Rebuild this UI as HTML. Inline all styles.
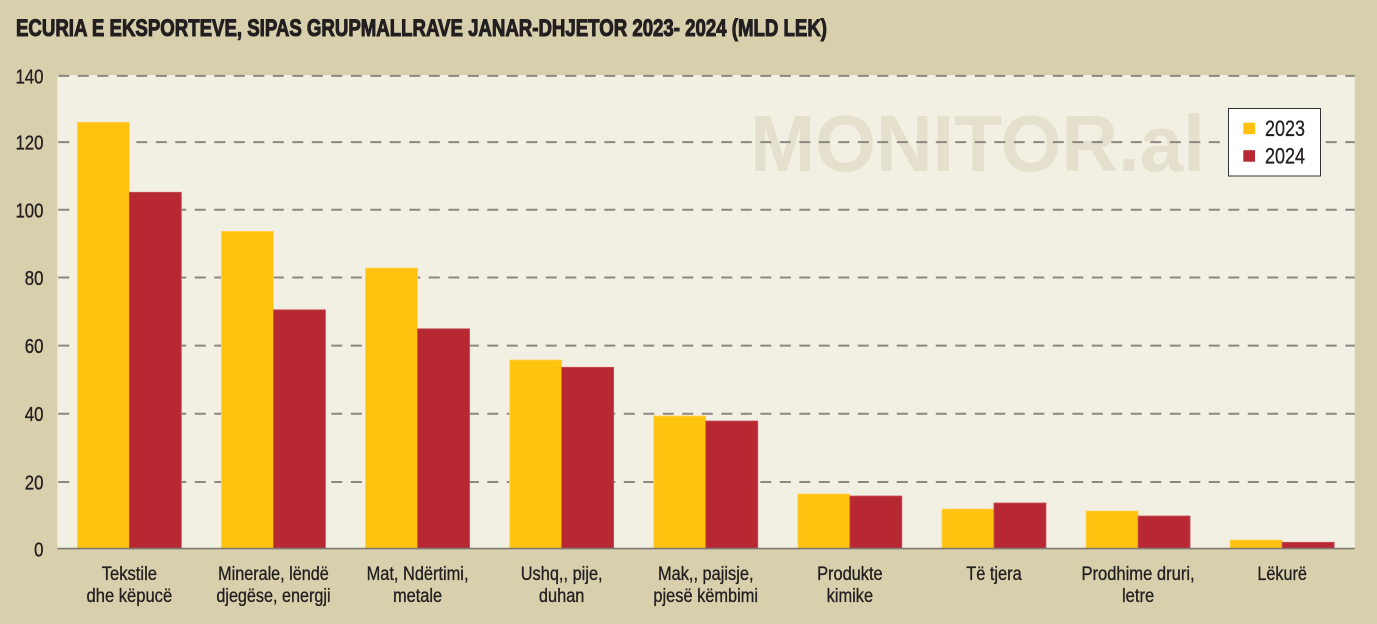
<!DOCTYPE html>
<html>
<head>
<meta charset="utf-8">
<style>
  html,body{margin:0;padding:0;background:#D8D0AC;}
  svg{display:block;}
  text{font-family:"Liberation Sans","DejaVu Sans",sans-serif;}
</style>
</head>
<body>
<svg width="1377" height="624" viewBox="0 0 1377 624" xmlns="http://www.w3.org/2000/svg">
  <rect x="0" y="0" width="1377" height="624" fill="#D8D0AC"/>
  <!-- title -->
  <text x="16" y="36" font-size="24.5" font-weight="bold" fill="#231F20" stroke="#231F20" stroke-width="1.1" textLength="811" lengthAdjust="spacingAndGlyphs">ECURIA E EKSPORTEVE, SIPAS GRUPMALLRAVE JANAR-DHJETOR 2023- 2024 (MLD LEK)</text>

  <!-- plot background -->
  <rect x="57.3" y="75" width="1297.4" height="473.5" fill="#F2EFE3"/>

  <!-- watermark -->
  <text x="750" y="171" font-size="80" font-weight="bold" fill="#E5E0CD" textLength="455" lengthAdjust="spacingAndGlyphs">MONITOR.al</text>

  <!-- gridlines -->
  <g stroke="#8C8880" stroke-width="2" stroke-dasharray="11 8.5">
    <line x1="58.3" y1="75.9" x2="1354.7" y2="75.9"/>
    <line x1="58.3" y1="142.1" x2="1354.7" y2="142.1"/>
    <line x1="58.3" y1="209.8" x2="1354.7" y2="209.8"/>
    <line x1="58.3" y1="277.5" x2="1354.7" y2="277.5"/>
    <line x1="58.3" y1="345.6" x2="1354.7" y2="345.6"/>
    <line x1="58.3" y1="413.7" x2="1354.7" y2="413.7"/>
    <line x1="58.3" y1="482" x2="1354.7" y2="482"/>
  </g>

  <!-- y labels -->
  <g font-size="20.5" fill="#231F20" stroke="#231F20" stroke-width="0.35">
    <text transform="translate(43.5,83.5) scale(0.82,1)" text-anchor="end">140</text>
    <text transform="translate(43.5,149.5) scale(0.82,1)" text-anchor="end">120</text>
    <text transform="translate(43.5,217.3) scale(0.82,1)" text-anchor="end">100</text>
    <text transform="translate(43.5,285) scale(0.82,1)" text-anchor="end">80</text>
    <text transform="translate(43.5,353.1) scale(0.82,1)" text-anchor="end">60</text>
    <text transform="translate(43.5,421.2) scale(0.82,1)" text-anchor="end">40</text>
    <text transform="translate(43.5,489.5) scale(0.82,1)" text-anchor="end">20</text>
    <text transform="translate(43.5,556.5) scale(0.82,1)" text-anchor="end">0</text>
  </g>

  <!-- bars 2023 -->
  <g fill="#FFC20F" stroke="#FFD35A" stroke-width="0.8">
    <rect x="77.35" y="122.3" width="52" height="426.2"/>
    <rect x="221.45" y="231.4" width="52" height="317.1"/>
    <rect x="365.55" y="268" width="52" height="280.5"/>
    <rect x="509.65" y="360" width="52" height="188.5"/>
    <rect x="653.75" y="416" width="52" height="132.5"/>
    <rect x="797.85" y="494" width="52" height="54.5"/>
    <rect x="941.95" y="509" width="52" height="39.5"/>
    <rect x="1086.05" y="511" width="52" height="37.5"/>
    <rect x="1230.15" y="540" width="52" height="8.5"/>
  </g>
  <!-- bars 2024 -->
  <g fill="#B72832" stroke="#C9525A" stroke-width="0.8">
    <rect x="129.35" y="192.3" width="52" height="356.2"/>
    <rect x="273.45" y="309.8" width="52" height="238.7"/>
    <rect x="417.55" y="328.8" width="52" height="219.7"/>
    <rect x="561.65" y="367.3" width="52" height="181.2"/>
    <rect x="705.75" y="421" width="52" height="127.5"/>
    <rect x="849.85" y="496" width="52" height="52.5"/>
    <rect x="993.95" y="503" width="52" height="45.5"/>
    <rect x="1138.05" y="516" width="52" height="32.5"/>
    <rect x="1282.15" y="542.3" width="52" height="6.2"/>
  </g>

  <!-- zero axis -->
  <line x1="57.3" y1="548.6" x2="1354.7" y2="548.6" stroke="#7F7A70" stroke-width="1.6"/>

  <!-- x labels -->
  <g font-size="19.5" fill="#231F20" stroke="#231F20" stroke-width="0.35" text-anchor="middle">
    <text transform="translate(129.35,580) scale(0.85,1)">Tekstile</text>
    <text transform="translate(129.35,602) scale(0.85,1)">dhe këpucë</text>
    <text transform="translate(273.45,580) scale(0.83,1)">Minerale, lëndë</text>
    <text transform="translate(273.45,602) scale(0.83,1)">djegëse, energji</text>
    <text transform="translate(417.55,580) scale(0.84,1)">Mat, Ndërtimi,</text>
    <text transform="translate(417.55,602) scale(0.84,1)">metale</text>
    <text transform="translate(561.65,580) scale(0.84,1)">Ushq,, pije,</text>
    <text transform="translate(561.65,602) scale(0.84,1)">duhan</text>
    <text transform="translate(705.75,580) scale(0.84,1)">Mak,, pajisje,</text>
    <text transform="translate(705.75,602) scale(0.84,1)">pjesë këmbimi</text>
    <text transform="translate(849.85,580) scale(0.84,1)">Produkte</text>
    <text transform="translate(849.85,602) scale(0.84,1)">kimike</text>
    <text transform="translate(993.95,580) scale(0.84,1)">Të tjera</text>
    <text transform="translate(1138.05,580) scale(0.85,1)">Prodhime druri,</text>
    <text transform="translate(1138.05,602) scale(0.85,1)">letre</text>
    <text transform="translate(1282.15,580) scale(0.83,1)">Lëkurë</text>
  </g>

  <!-- legend -->
  <rect x="1228.5" y="108.5" width="92" height="67.5" fill="#FFFFFF" stroke="#333333" stroke-width="1"/>
  <rect x="1243.3" y="122.7" width="11.7" height="11.5" fill="#FFC20F"/>
  <rect x="1243.3" y="150.2" width="11.7" height="11.5" fill="#B72832"/>
  <text x="1265" y="135.8" font-size="22" fill="#231F20" stroke="#231F20" stroke-width="0.3" textLength="40" lengthAdjust="spacingAndGlyphs">2023</text>
  <text x="1265" y="163.3" font-size="22" fill="#231F20" stroke="#231F20" stroke-width="0.3" textLength="40" lengthAdjust="spacingAndGlyphs">2024</text>
</svg>
</body>
</html>
